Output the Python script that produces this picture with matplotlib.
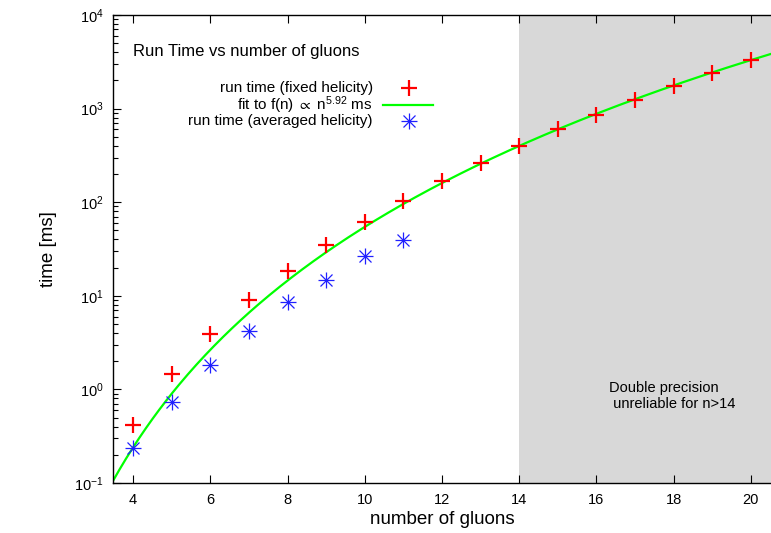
"""
Run time vs number of gluons, gnuplot-style log plot.
"""
import numpy as np
import matplotlib
matplotlib.use('Agg')
import matplotlib.pyplot as plt
from matplotlib.ticker import LogLocator, NullFormatter

plt.rcParams['font.family'] = ['Liberation Sans', 'DejaVu Sans']
plt.rcParams['mathtext.fontset'] = 'custom'
plt.rcParams['mathtext.rm'] = 'Liberation Sans'
plt.rcParams['mathtext.it'] = 'Liberation Sans'
plt.rcParams['mathtext.fallback'] = 'stixsans'

# data
N_FIXED = [4, 5, 6, 7, 8, 9, 10, 11, 12, 13, 14, 15, 16, 17, 18, 19, 20]
T_FIXED = [0.42, 1.46, 3.9, 9.0, 18.4, 35, 61, 103, 168, 262, 398,
           605, 855, 1240, 1740, 2400, 3300]
N_AVG = [4, 5, 6, 7, 8, 9, 10, 11]
T_AVG = [0.237, 0.73, 1.82, 4.2, 8.6, 14.8, 26.6, 39.5]

# fit f(n) = A * n^P
FIT_A = 6.55e-5
FIT_P = 5.92

XMIN, XMAX = 3.48, 20.52
YMIN, YMAX = 0.1, 1e4
UNRELIABLE_FROM = 14

RED = '#ff0000'
GREEN = '#00ff00'
BLUE = '#2020ff'
GREY = '#d8d8d8'

fig = plt.figure(figsize=(7.71, 5.33), dpi=100)
ax = fig.add_axes([113/771, 1-483/533, 658/771, 468/533])

ax.axvspan(UNRELIABLE_FROM, XMAX + 1, color=GREY, lw=0, zorder=0)

nfit = np.linspace(XMIN, XMAX, 300)
ax.plot(nfit, FIT_A * nfit**FIT_P, color=GREEN, lw=1.6, zorder=2)

ax.plot(N_FIXED, T_FIXED, ls='none', marker='+', ms=12, mew=1.6,
        color=RED, zorder=3)
for m in ['+', 'x']:
    ax.plot(N_AVG, T_AVG, ls='none', marker=m, ms=11 if m == '+' else 9,
            mew=0.9, color=BLUE, zorder=3)

ax.set_yscale('log')
ax.set_xlim(XMIN, XMAX)
ax.set_ylim(YMIN, YMAX)
ax.set_xticks(range(4, 21, 2))
ax.yaxis.set_major_locator(LogLocator(base=10, numticks=10))
ax.yaxis.set_minor_locator(LogLocator(base=10, subs=range(2, 10), numticks=20))
ax.yaxis.set_minor_formatter(NullFormatter())
ax.tick_params(which='both', direction='in', top=True, right=False,
               labelsize=10.5, width=0.8)
ax.tick_params(which='major', length=6, pad=7)
ax.tick_params(which='minor', length=3.5)
for s in ['left', 'bottom', 'top']:
    ax.spines[s].set_linewidth(1.0)
ax.spines['right'].set_visible(False)

ax.set_xlabel('number of gluons', fontsize=13.5, labelpad=3)
ax.set_ylabel('time [ms]', fontsize=13.5, labelpad=12)

# hand-made gnuplot-style key
ax.text(0.031, 0.921, 'Run Time vs number of gluons', transform=ax.transAxes,
        ha='left', va='center', fontsize=12)
key_y = [0.844, 0.808, 0.774]
key_lbl = ['run time (fixed helicity)',
           r'fit to f(n) $\propto$ n$^{5.92}$ ms',
           'run time (averaged helicity)']
for y, lbl in zip(key_y, key_lbl):
    ax.text(0.395, y, lbl, transform=ax.transAxes, ha='right', va='center',
            fontsize=11)
ax.plot([0.45], [key_y[0]], transform=ax.transAxes, marker='+', ms=12,
        mew=1.6, color=RED, ls='none', clip_on=False)
ax.plot([0.41, 0.486], [key_y[1], key_y[1]], transform=ax.transAxes,
        color=GREEN, lw=1.6)
for m in ['+', 'x']:
    ax.plot([0.45], [key_y[2]], transform=ax.transAxes, marker=m,
            ms=11 if m == '+' else 9, mew=0.9, color=BLUE, ls='none')

ax.text(0.754, 0.186, 'Double precision\n unreliable for n>14',
        transform=ax.transAxes, ha='left', va='center', fontsize=10.5,
        linespacing=1.1)

fig.savefig('out.png', dpi=100)
